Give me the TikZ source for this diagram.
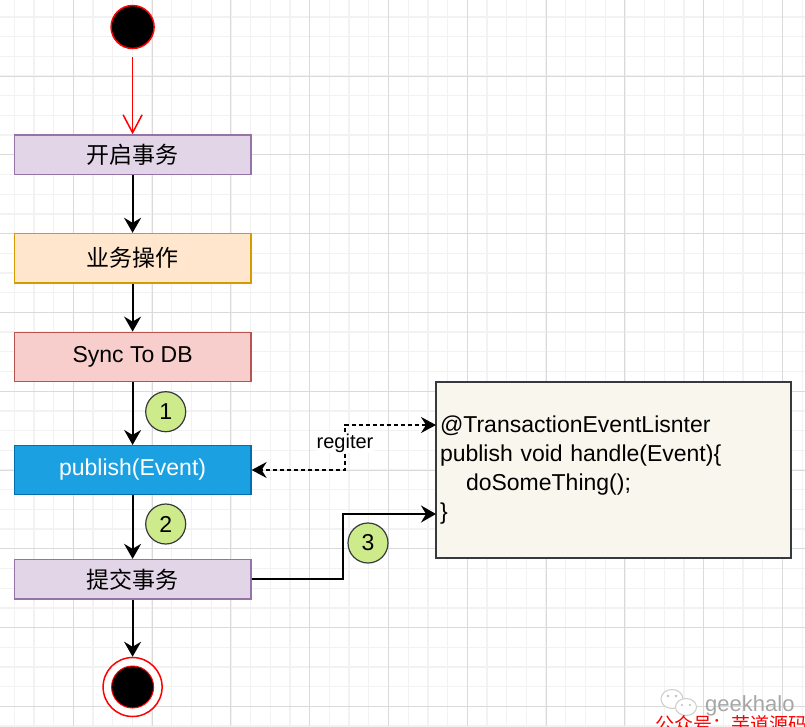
\documentclass[tikz,border=0pt]{standalone}
\usepackage{fontspec}
\setmainfont{Liberation Sans}
\newfontfamily\cjk{Noto Sans CJK SC}
\usetikzlibrary{arrows.meta}
\definecolor{lilacfill}{HTML}{E1D5E7}
\definecolor{lilacline}{HTML}{9673A6}
\definecolor{orangefill}{HTML}{FFE6CC}
\definecolor{orangeline}{HTML}{D79B00}
\definecolor{rosefill}{HTML}{F8CECC}
\definecolor{roseline}{HTML}{B85450}
\definecolor{bluefill}{HTML}{1BA1E2}
\definecolor{blueline}{HTML}{006EAF}
\definecolor{limefill}{HTML}{CDEB8B}
\definecolor{darkline}{HTML}{36393D}
\definecolor{notefill}{HTML}{F9F7ED}
\definecolor{gridminor}{HTML}{F2F2F2}
\definecolor{gridmajor}{HTML}{DADADA}
\tikzset{
  stepbox/.style={rectangle,minimum width=236.6pt,line width=1.5pt,font=\fontsize{23}{28}\selectfont},
  numdot/.style={circle,minimum size=40pt,inner sep=0pt,fill=limefill,draw=darkline,line width=1.2pt,font=\fontsize{23}{28}\selectfont},
  flow/.style={line width=1.8pt,-{Stealth[length=15pt,width=17pt,inset=5pt]}},
  regflow/.style={line width=1.5pt,dash pattern=on 4pt off 3pt,-{Stealth[length=15pt,width=16pt,inset=5pt]}}
}
\begin{document}
\begin{tikzpicture}[x=1pt,y=-1pt]
\fill[white] (0,0) rectangle (805,726);
\useasboundingbox (0,0) rectangle (805,726);
\foreach \i in {0,...,41} \draw[gridminor,line width=1.3pt] ({-5.5+19.7*\i},0) -- ({-5.5+19.7*\i},726);
\foreach \i in {0,...,37} \draw[gridminor,line width=1.3pt] (0,{-2.8+19.7*\i}) -- (805,{-2.8+19.7*\i});
\foreach \i in {0,...,10} \draw[gridmajor,line width=1pt] ({-5.5+78.8*\i},0) -- ({-5.5+78.8*\i},726);
\foreach \i in {0,...,9} \draw[gridmajor,line width=1pt] (0,{-2.8+78.8*\i}) -- (805,{-2.8+78.8*\i});

\node[circle,minimum size=43pt,inner sep=0pt,fill=black,draw=red,line width=1.5pt] (start) at (132.6,27) {};
\node[stepbox,minimum height=39.4pt,fill=lilacfill,draw=lilacline] (begin) at (132.6,154.8) {\cjk 开启事务};
\node[stepbox,minimum height=49.3pt,fill=orangefill,draw=orangeline] (work) at (132.6,258.2) {\cjk 业务操作};
\node[stepbox,minimum height=49.3pt,fill=rosefill,draw=roseline] (sync) at (132.6,357) {Sync To DB};
\node[stepbox,minimum height=48.6pt,fill=bluefill,draw=blueline,text=white] (pub) at (132.6,470) {publish(Event)};
\node[stepbox,minimum height=39.4pt,fill=lilacfill,draw=lilacline] (commit) at (132.6,579.3) {\cjk 提交事务};
\node[circle,minimum size=59pt,inner sep=0pt,fill=white,draw=red,line width=1.5pt] (stop) at (132.6,687) {};
\node[circle,minimum size=42pt,inner sep=0pt,fill=black,draw=red,line width=1pt] (stopdot) at (stop) {};

\node[rectangle,draw=darkline,fill=notefill,line width=1.5pt,text width=347pt,align=left,inner xsep=4pt,minimum height=176pt,font=\fontsize{23}{28.7}\selectfont] (code) at (613.5,470)
  {@TransactionEventLisnter\\publish void handle(Event)\{\\\hspace*{26pt}doSomeThing();\\\}};
\coordinate (tin) at (436,425);
\coordinate (tout) at (436,514);

\draw[red,line width=1.5pt,shorten <=8pt,-{Straight Barb[length=18pt,width=19pt]}] (start) -- (begin);
\draw[flow] (begin) -- (work);
\draw[flow] (work) -- (sync);
\draw[flow] (sync) -- (pub);
\draw[flow] (pub) -- (commit);
\draw[flow] (commit) -- (stop);
\draw[flow] (commit.east) -| ([xshift=-93pt]tout) -- (tout);

\node[fill=white,inner sep=1pt,font=\fontsize{20}{24}\selectfont] (reg) at (345,443) {regiter};
\draw[regflow] (reg) |- (tin);
\draw[regflow] (reg) |- (pub.east);

\node[numdot] (one) at (165.7,411.7) {1};
\node[numdot] (two) at (165.7,524) {2};
\node[numdot] (three) at (368,543) {3};

\draw[gray!40,line width=1pt,fill=white] (672,699) ellipse (11 and 9.5);
\draw[gray!40,line width=1pt,fill=white] (686,707) ellipse (10.5 and 8.5);
\fill[gray!50] (668,696) circle (1.3) (676,696) circle (1.3) (682,705) circle (1.2) (690,705) circle (1.2);
\node[text=gray!70,inner sep=0pt,anchor=west,font=\fontsize{22}{26}\selectfont] (wmname) at (705,706) {geekhalo};
\begin{scope}
\clip (0,0) rectangle (805,726);
\node[text=red,inner sep=0pt,anchor=north west,font=\cjk\fontsize{19}{22}\selectfont] (wmred) at (655,715) {公众号：芋道源码};
\end{scope}
\end{tikzpicture}
\end{document}
